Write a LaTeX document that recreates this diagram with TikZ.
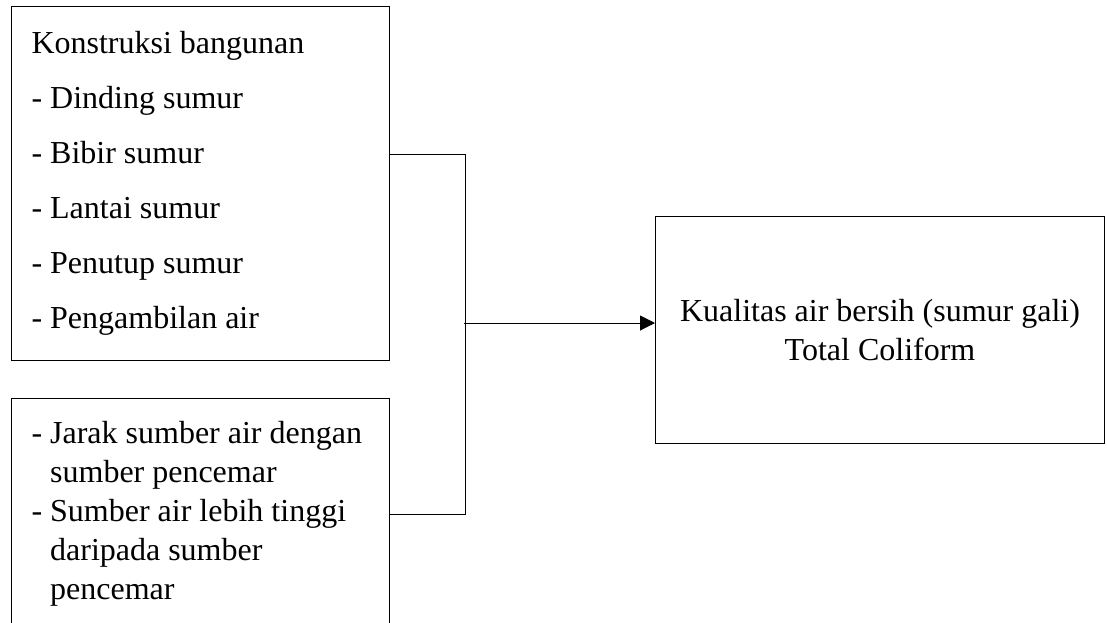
\documentclass[tikz,border=0pt]{standalone}
\usepackage{fontspec}
\setmainfont{Liberation Serif}
\usetikzlibrary{arrows.meta}
\tikzset{kotak/.style={draw, line width=1pt, inner xsep=20pt, inner ysep=0pt, align=left, anchor=north west, font=\fontsize{32}{39}\selectfont, execute at begin node={\spaceskip=.25em \xspaceskip=.25em}}}
\tikzset{panah/.style={-{Triangle[length=15pt, width=15pt]}}}

\begin{document}
\begin{tikzpicture}[x=1pt, y=-1pt, line width=1pt]
  \path [use as bounding box, clip] (0,0) rectangle (1107,622);
  \node [kotak, minimum width=378pt, minimum height=354pt, text width=338pt, font=\fontsize{32}{55}\selectfont] (konstruksi) at (11,6) {Konstruksi bangunan\\- Dinding sumur\\- Bibir sumur\\- Lantai sumur\\- Penutup sumur\\- Pengambilan air};
  \node [kotak, minimum width=378pt, minimum height=231pt, text width=338pt] (jarak) at (11,398) {- Jarak sumber air dengan\\\phantom{- }sumber pencemar\\- Sumber air lebih tinggi\\\phantom{- }daripada sumber\\\phantom{- }pencemar};
  \node [kotak, align=center, minimum width=449pt, minimum height=227pt, text width=409pt] (kualitas) at (655,216) {Kualitas air bersih (sumur gali)\\Total Coliform};
  % garis penghubung
  \draw ([yshift=-148pt]konstruksi.north east) -- ++(75,0) |- (jarak.east);
  \coordinate (cabang) at (464,323);
  \draw [panah] (cabang) -- (cabang -| kualitas.west);
\end{tikzpicture}
\end{document}
